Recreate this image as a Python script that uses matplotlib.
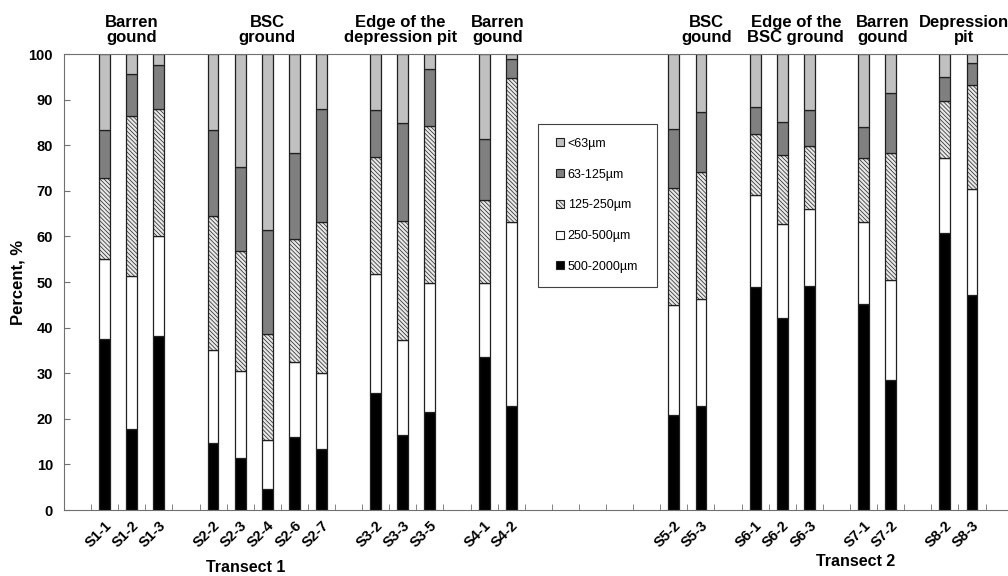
import matplotlib
matplotlib.use('Agg')
import matplotlib.pyplot as plt
from matplotlib import transforms
from matplotlib.patches import Patch, Rectangle

plt.rcParams['font.family'] = ['Liberation Sans', 'DejaVu Sans']
plt.rcParams['hatch.linewidth'] = 0.5

# Amostras por grupo (na ordem do eixo x)
grupos = [
    ['S1-1', 'S1-2', 'S1-3'],
    ['S2-2', 'S2-3', 'S2-4', 'S2-6', 'S2-7'],
    ['S3-2', 'S3-3', 'S3-5'],
    ['S4-1', 'S4-2'],
    ['S5-2', 'S5-3'],
    ['S6-1', 'S6-2', 'S6-3'],
    ['S7-1', 'S7-2'],
    ['S8-2', 'S8-3'],
]
cabecalhos = ['Barren\ngound', 'BSC\nground', 'Edge of the\ndepression pit', 'Barren\ngound',
              'BSC\ngound', 'Edge of the\nBSC ground', 'Barren\ngound', 'Depression\npit']
transectos = ['Transect 1', 'Transect 2']

# Frações granulométricas (%) por amostra
f500_2000 = [37.5, 17.7, 38.1, 14.7, 11.3, 4.5, 16.0, 13.4, 25.6, 16.5, 21.4, 33.5, 22.7,
             20.8, 22.7, 48.8, 42.1, 49.1, 45.1, 28.4, 60.7, 47.2]
f250_500 = [17.5, 33.7, 21.9, 20.3, 19.1, 10.9, 16.5, 16.6, 26.1, 20.8, 28.3, 16.2, 40.4,
            24.2, 23.6, 20.2, 20.7, 17.0, 18.1, 22.1, 16.5, 23.2]
f125_250 = [17.8, 35.1, 28.0, 29.4, 26.4, 23.2, 26.9, 33.1, 25.7, 26.1, 34.6, 18.3, 31.6,
            25.7, 27.8, 13.5, 15.1, 13.8, 13.9, 27.7, 12.4, 22.8]
f63_125 = [10.6, 9.1, 9.6, 19.0, 18.5, 22.7, 18.8, 24.9, 10.4, 21.5, 12.5, 13.4, 4.3,
           12.8, 13.1, 5.9, 7.2, 7.9, 7.0, 13.2, 5.3, 4.8]
f_menor63 = [16.6, 4.4, 2.4, 16.6, 24.7, 38.7, 21.8, 12.0, 12.2, 15.1, 3.2, 18.6, 1.0,
             16.5, 12.8, 11.6, 14.9, 12.2, 15.9, 8.6, 5.1, 2.0]

fracoes = ['500-2000µm', '250-500µm', '125-250µm', '63-125µm', '<63µm']
valores = [f500_2000, f250_500, f125_250, f63_125, f_menor63]

# Estilo de cada fração
estilos = [
    dict(color='black', hatch=None),
    dict(color='white', hatch=None),
    dict(color='#e8e8e8', hatch='\\' * 8),
    dict(color='#808080', hatch=None),
    dict(color='#c0c0c0', hatch=None),
]

# Posições: um espaço vazio entre grupos, cinco entre S4 e S5
espacos = [1, 1, 1, 5, 1, 1, 1]
posicoes = []
centros = []
x = 0
for i, g in enumerate(grupos):
    ini = x
    for _ in g:
        posicoes.append(x)
        x += 1
    centros.append((ini + x - 1) / 2)
    if i < len(espacos):
        x += espacos[i]
rotulos = [s for g in grupos for s in g]

fig = plt.figure(figsize=(10.08, 5.76), dpi=100)
ax = fig.add_axes([64 / 1008, 66 / 576, 944 / 1008, 456 / 576])

base = [0.0] * len(posicoes)
for vals, est in zip(valores, estilos):
    ax.bar(posicoes, vals, width=0.4, bottom=base, color=est['color'],
           hatch=est['hatch'], edgecolor='#202020', linewidth=0.9)
    base = [b + v for b, v in zip(base, vals)]

ax.set_xlim(-1.5, 33.33)
ax.set_ylim(0, 100)
ax.set_yticks(range(0, 101, 10))
ax.set_xticks(posicoes)
ax.set_xticklabels(rotulos, rotation=45, ha='right', rotation_mode='anchor',
                   fontsize=10.5, fontweight='bold')
ax.set_xticks([p - 0.5 for p in range(0, 34)], minor=True)
ax.tick_params(axis='x', which='major', length=0, pad=6)
ax.tick_params(axis='x', which='minor', direction='in', length=4, color='#707070')
ax.tick_params(axis='y', direction='in', length=4, color='#707070', labelsize=10.5, pad=8)
for t in ax.get_yticklabels():
    t.set_fontweight('bold')
ax.set_ylabel('Percent, %', fontsize=12, fontweight='bold')
ax.yaxis.set_label_coords(-0.041, 0.5)

for lado in ['top', 'left', 'bottom']:
    ax.spines[lado].set_color('#707070')
ax.spines['right'].set_visible(False)

# Cabeçalhos dos grupos
trans = transforms.blended_transform_factory(ax.transData, ax.transAxes)
ajuste = [0, 0, -0.1, 0, 0.7, 0.5, 0.2, 0.2]
for c, txt, d in zip(centros, cabecalhos, ajuste):
    ax.text(c + d, 1.02, txt, transform=trans, ha='center', va='bottom',
            fontsize=12, fontweight='bold', linespacing=1.0)

ax.text(5.2, -0.125, transectos[0], transform=trans, ha='center', va='center',
        fontsize=11.5, fontweight='bold')
ax.text(27.7, -0.113, transectos[1], transform=trans, ha='center', va='center',
        fontsize=11.5, fontweight='bold')

# Legenda (ordem invertida), moldura desenhada à parte
alcas = [Patch(facecolor=e['color'], hatch=e['hatch'], edgecolor='#202020', linewidth=0.8)
         for e in estilos][::-1]
leg = ax.legend(alcas, fracoes[::-1], loc='upper left', bbox_to_anchor=(0.511, 0.838),
                fontsize=9, handlelength=0.6, handleheight=0.6, handletextpad=0.3,
                labelspacing=1.5, borderpad=0.3, frameon=False)
leg.set_zorder(6)
fig.canvas.draw()
bb = leg.get_window_extent().transformed(fig.transFigure.inverted())
px, py = 1 / 1008, 1 / 576
moldura = Rectangle((bb.x0 - 15 * px, bb.y0 - 10 * py), bb.width + 30 * px, bb.height + 20 * py,
                    transform=fig.transFigure, facecolor='white', edgecolor='#404040',
                    linewidth=0.8, zorder=5)
ax.add_patch(moldura)

plt.savefig('out.png', dpi=100)
